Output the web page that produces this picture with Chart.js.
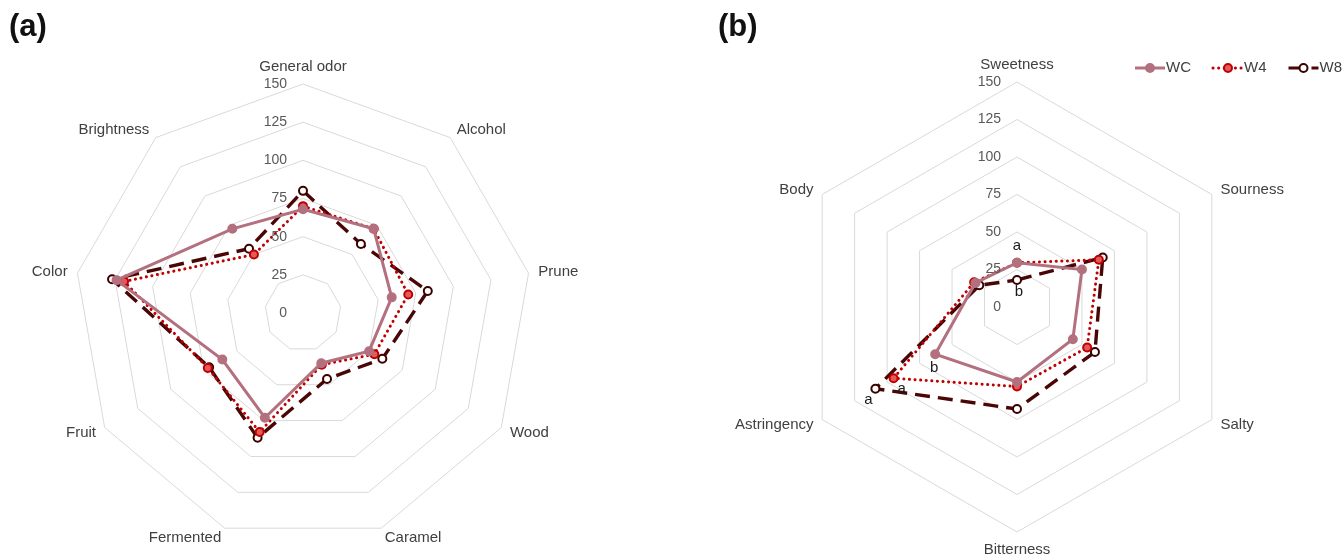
<!DOCTYPE html>
<html>
<head>
<meta charset="utf-8">
<script src="https://cdn.jsdelivr.net/npm/chart.js@4.4.1/dist/chart.umd.min.js"></script>
<style>
  html, body { margin: 0; padding: 0; background: #fff; }
  body { width: 1344px; height: 556px; position: relative; overflow: hidden; }
  .panel { position: absolute; top: 0; width: 672px; height: 556px; }
  .tag { position: absolute; top: 8px; font: bold 31px "Liberation Sans", Arial, sans-serif; color: #111; }
</style>
</head>
<body>
<div class="panel" style="left:0"><canvas id="chartA" width="672" height="556"></canvas></div>
<div class="panel" style="left:672px"><canvas id="chartB" width="672" height="556"></canvas></div>
<div class="tag" style="left:9px">(a)</div>
<div class="tag" style="left:718px">(b)</div>
<script>
// aroma / appearance attributes (panel a)
const aromaLabels = ['General odor', 'Alcohol', 'Prune', 'Wood', 'Caramel', 'Fermented', 'Fruit', 'Color', 'Brightness'];
const aromaWC = [68, 72, 59, 50, 35, 73, 61, 124, 72];
const aromaW4 = [70, 72, 70, 54, 36, 83, 72, 119, 50];
const aromaW8 = [80, 59, 83, 60, 46, 87, 71, 127, 55];

// taste attributes (panel b)
const tasteLabels = ['Sweetness', 'Sourness', 'Salty', 'Bitterness', 'Astringency', 'Body'];
const tasteWC = [29.5, 50, 43, 50, 63, 32];
const tasteW4 = [29.5, 63, 54, 53, 95, 33];
const tasteW8 = [18, 66, 60, 68, 109, 29];

const seriesNames = ['WC', 'W4', 'W8'];
const tickValues = [0, 25, 50, 75, 100, 125, 150];

// significance letters: series index, axis index, letter
const tasteLetters = [[0, 0, 'a'], [2, 0, 'b'], [0, 4, 'b'], [1, 4, 'a'], [2, 4, 'a']];
const letterOffsets = [[0, -17], [2, 12], [-1, 14], [8, 11], [-7, 11]];

const seriesStyle = [
    { color: '#b3707e', dash: [], cap: 'butt', width: 3, pointBg: '#b3707e', pointBorder: '#b3707e' },
    { color: '#c00000', dash: [0.1, 5.5], cap: 'round', width: 3, pointBg: '#e25a5a', pointBorder: '#c00000' },
    { color: '#4a0505', dash: [15, 8], cap: 'butt', width: 3.4, pointBg: '#ffffff', pointBorder: '#3a0000' }
];

const FONT = '"Liberation Sans", Arial, sans-serif';

function makeDatasets(values) {
    return values.map((data, i) => ({
        label: seriesNames[i],
        data: data,
        fill: false,
        borderColor: seriesStyle[i].color,
        borderWidth: seriesStyle[i].width,
        borderDash: seriesStyle[i].dash,
        borderCapStyle: seriesStyle[i].cap,
        pointRadius: 4,
        pointBorderWidth: 2,
        pointBackgroundColor: seriesStyle[i].pointBg,
        pointBorderColor: seriesStyle[i].pointBorder
    }));
}

// tick labels, axis labels, letters and legend drawn from the radial scale
const radarText = {
    id: 'radarText',
    afterDraw(chart, args, opts) {
        const ctx = chart.ctx;
        const s = chart.scales.r;
        ctx.save();

        ctx.fillStyle = '#595959';
        ctx.font = '14px ' + FONT;
        ctx.textAlign = 'right';
        ctx.textBaseline = 'middle';
        tickValues.forEach(v => {
            const y = s.yCenter - s.getDistanceFromCenterForValue(v);
            ctx.fillText(String(v), s.xCenter - 16, y);
        });

        ctx.fillStyle = '#404040';
        ctx.font = '15px ' + FONT;
        chart.data.labels.forEach((txt, i) => {
            const deg = Math.round(s.getIndexAngle(i) * 180 / Math.PI) % 360;
            const p = s.getPointPosition(i, s.drawingArea + 10);
            ctx.textAlign = (deg === 0 || deg === 180) ? 'center' : (deg < 180 ? 'left' : 'right');
            ctx.textBaseline = deg === 0 ? 'bottom' : (deg === 180 ? 'top' : 'middle');
            ctx.fillText(txt, p.x, p.y);
        });

        if (opts.letters) {
            ctx.fillStyle = '#1a1a1a';
            ctx.font = '15px ' + FONT;
            ctx.textAlign = 'center';
            ctx.textBaseline = 'middle';
            opts.letters.forEach(([ds, idx, txt], k) => {
                const pt = chart.getDatasetMeta(ds).data[idx];
                ctx.fillText(txt, pt.x + letterOffsets[k][0], pt.y + letterOffsets[k][1]);
            });
        }

        if (opts.legend) {
            let x = opts.legend.x;
            const y = opts.legend.y;
            ctx.font = '15px ' + FONT;
            ctx.textAlign = 'left';
            ctx.textBaseline = 'middle';
            chart.data.datasets.forEach(d => {
                ctx.strokeStyle = d.borderColor;
                ctx.lineWidth = 3;
                ctx.lineCap = d.borderCapStyle;
                ctx.setLineDash(d.borderDash);
                ctx.beginPath();
                ctx.moveTo(x, y);
                ctx.lineTo(x + 30, y);
                ctx.stroke();
                ctx.setLineDash([]);
                ctx.beginPath();
                ctx.arc(x + 15, y, 4, 0, Math.PI * 2);
                ctx.fillStyle = d.pointBackgroundColor;
                ctx.fill();
                ctx.lineWidth = 2;
                ctx.strokeStyle = d.pointBorderColor;
                ctx.stroke();
                ctx.fillStyle = '#404040';
                ctx.fillText(d.label, x + 31, y);
                x += 31 + ctx.measureText(d.label).width + 22;
            });
        }
        ctx.restore();
    }
};

function radarOptions(padding, extra) {
    return {
        responsive: false,
        devicePixelRatio: 1,
        animation: false,
        layout: { padding: padding },
        plugins: {
            legend: { display: false },
            tooltip: { enabled: false },
            radarText: extra
        },
        scales: {
            r: {
                min: 0,
                max: 150,
                ticks: { stepSize: 25, display: false },
                grid: { color: '#d9d9d9', lineWidth: 1 },
                angleLines: { display: false },
                pointLabels: { display: false }
            }
        }
    };
}

new Chart(document.getElementById('chartA'), {
    type: 'radar',
    data: { labels: aromaLabels, datasets: makeDatasets([aromaWC, aromaW4, aromaW8]) },
    options: radarOptions({ left: 74, right: 140, top: 84, bottom: 14 }, {}),
    plugins: [radarText]
});

new Chart(document.getElementById('chartB'), {
    type: 'radar',
    data: { labels: tasteLabels, datasets: makeDatasets([tasteWC, tasteW4, tasteW8]) },
    options: radarOptions({ left: 120, right: 102, top: 82, bottom: 24 }, {
        letters: tasteLetters,
        legend: { x: 463, y: 68 }
    }),
    plugins: [radarText]
});
</script>
</body>
</html>
